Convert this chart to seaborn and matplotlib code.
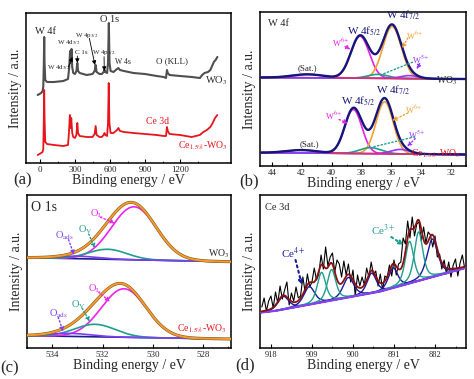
import numpy as np
import seaborn as sns
import matplotlib.pyplot as plt
from matplotlib.ticker import MultipleLocator, FixedLocator

# ---------------- (a) survey spectra (x on the printed tick scale)
wo3_survey_e = [-20, -5, 10, 22, 28, 33, 36, 39, 45, 60, 120, 200, 240, 250, 258, 264, 270, 276,
                285, 300, 312, 320, 326, 340, 400, 450, 468, 477, 485, 510, 530, 545, 553, 560,
                575, 583, 590, 596, 605, 630, 660, 672, 685, 720, 800, 900, 1000, 1060, 1080,
                1088, 1095, 1110, 1200, 1300, 1370, 1390, 1410, 1440, 1460, 1475, 1490, 1505, 1520]
wo3_survey_i = [68, 69, 70, 72, 76, 100, 126, 100, 83, 81, 81, 82, 84, 95, 112, 100, 114, 96,
                90, 89, 92, 100, 92, 90, 88, 89, 92, 98, 91, 89, 89, 91, 93, 91,
                90, 100, 140, 100, 92, 91, 94, 95, 93, 92, 90, 89, 87, 86, 85,
                93, 90, 88, 87, 86, 85, 88, 90, 91, 93, 97, 101, 103, 106]
ce_survey_e = [-20, -5, 10, 22, 28, 33, 36, 39, 45, 60, 120, 200, 240, 248, 256, 262, 268, 276,
               285, 300, 312, 320, 326, 340, 400, 450, 468, 477, 485, 510, 530, 545, 553, 560,
               575, 583, 589, 595, 605, 630, 660, 672, 685, 720, 800, 900, 1000, 1060, 1080,
               1088, 1095, 1110, 1200, 1300, 1370, 1400, 1430, 1460, 1480, 1500, 1520]
ce_survey_i = [8, 9, 10, 11, 14, 45, 73, 45, 21, 19, 18, 17, 18, 30, 48, 35, 45, 30,
               26, 25, 28, 40, 30, 27, 26, 26, 29, 37, 28, 26, 26, 28, 30, 28,
               27, 40, 80, 40, 30, 30, 33, 35, 32, 31, 30, 29, 28, 27, 27,
               36, 32, 29, 28, 26, 28, 31, 33, 36, 40, 45, 48]
survey_ticks = [0, 300, 600, 900, 1200]

# ---------------- (b) W 4f fits: W6+ 5/2, W6+ 7/2, W5+ 5/2, W5+ 7/2, satellite
w4f_colors = ["#e620e6", "#f5a030", "#1f9e8e", "#9933ff", "#d6336c"]
wo3_w_center = [38.1, 35.95, 36.9, 34.8, 41.6]
wo3_w_height = [42, 52, 4, 3, 3.5]
wo3_w_fwhm = [1.45, 1.45, 1.6, 1.4, 2.5]
wo3_w_bg = [88.5, 87.0]
ce_w_center = [38.55, 36.45, 37.4, 35.4, 42.0]
ce_w_height = [44, 52, 6, 4.5, 3]
ce_w_fwhm = [1.35, 1.35, 1.7, 1.5, 2.5]
ce_w_bg = [13.3, 11.5]

# ---------------- (c) O 1s fits: O_L, O_V, O_ads
o1s_colors = ["#ee22ee", "#1f9e8e", "#7a3ff0"]
wo3_o_center = [530.75, 531.8, 533.0]
wo3_o_height = [53, 10, 2.5]
wo3_o_fwhm = [2.1, 1.8, 2.0]
wo3_o_bg = [90.3, 86.3]
ce_o_center = [531.15, 532.3, 533.3]
ce_o_height = [48.5, 12.5, 3]
ce_o_fwhm = [2.1, 1.9, 2.0]
ce_o_bg = [12.3, 9.0]

# ---------------- (d) Ce 3d
ce_bg_e = [920.2, 917.2, 894.2, 875.4]
ce_bg_i = [35.5, 37, 56.3, 80]
ce4_center = [915.3, 909.6, 901.0, 895.9, 891.2, 882.6]
ce4_height = [13, 18, 20, 20, 20, 38]
ce4_fwhm = [2.8, 2.8, 2.8, 2.4, 2.4, 2.8]
ce3_center = [906.9, 904.7, 887.6, 885.6]
ce3_height = [30, 31, 42, 49]
ce3_fwhm = [2.2, 2.2, 2.2, 2.2]
ce_raw_i = [41, 50, 37, 47, 52, 40, 56, 45, 62, 49, 58, 66, 43, 55, 47, 61, 50, 52, 71, 56,
            74, 61, 66, 80, 68, 74, 93, 79, 101, 82, 91, 95, 76, 88, 84, 71, 87, 73, 84, 66,
            78, 52, 73, 62, 71, 63, 80, 71, 86, 73, 77, 62, 74, 58, 72, 70, 83, 72, 88, 73,
            84, 86, 110, 104, 127, 110, 131, 112, 124, 126, 107, 121, 105, 116, 113, 101, 112, 91, 94, 79,
            88, 74, 86, 71, 83, 89, 72, 85, 93, 80]


def gauss(e, c, h, w):
    return h * np.exp(-4 * np.log(2) * ((e - c) / w) ** 2)


def pvoigt(e, c, h, w):
    g = np.exp(-4 * np.log(2) * ((e - c) / w) ** 2)
    l = 1 / (1 + 4 * ((e - c) / w) ** 2)
    return h * (0.5 * g + 0.5 * l)


def line(ax, x, y, color, lw=1.0, ls="-", z=2):
    sns.lineplot(x=x, y=y, ax=ax, color=color, lw=lw, ls=ls, sort=False,
                 estimator=None, zorder=z)


def arrow(ax, start, end, color, ls=":", lw=1.0, head=True):
    ax.annotate("", xy=end, xytext=start,
                arrowprops=dict(arrowstyle="-|>" if head else "-", color=color, lw=lw, ls=ls,
                                mutation_scale=6, shrinkA=0, shrinkB=0))


sns.set_theme(style="ticks")
plt.rcParams["font.family"] = ["Liberation Serif", "DejaVu Serif"]
plt.rcParams["mathtext.fontset"] = "stix"

fig = plt.figure(figsize=(4.74, 3.79), dpi=100)


def add_ax(l, r, t, b):
    ax = fig.add_axes([l / 474, 1 - b / 379, (r - l) / 474, (b - t) / 379])
    for s in ax.spines.values():
        s.set_linewidth(1.1)
        s.set_color("black")
    ax.tick_params(axis="x", which="major", direction="in", length=3, width=0.8,
                   labelsize=6.5, pad=2, color="black")
    ax.tick_params(axis="x", which="minor", direction="in", length=1.8, width=0.6)
    ax.tick_params(axis="y", left=False, labelleft=False)
    ax.set_xlabel("Binding energy / eV", fontsize=10, labelpad=0)
    ax.set_ylabel("Intensity / a.u.", fontsize=10, labelpad=3)
    return ax


# ---------- (a)
ax = add_ax(26, 231, 13, 163)
line(ax, wo3_survey_e, wo3_survey_i, "#4f4f4f", 1.5)
line(ax, ce_survey_e, ce_survey_i, "#e8141c", 1.3)
ax.set_xlim(-120, 1637)
ax.set_ylim(0, 150)
ax.xaxis.set_major_locator(FixedLocator(survey_ticks))
ax.xaxis.set_minor_locator(FixedLocator([150, 450, 750, 1050, 1350]))
ax.text(43, 132, "W 4f", fontsize=7.5, ha="center", va="center")
ax.text(600, 144, "O 1s", fontsize=7.5, ha="center", va="center")
ax.text(243, 120, r"W 4d$_{5/2}$", fontsize=5, ha="center", va="center")
ax.text(165, 95, r"W 4d$_{3/2}$", fontsize=5, ha="center", va="center")
ax.text(357, 110.7, "C 1s", fontsize=5, ha="center", va="center")
ax.text(400, 128, r"W 4p$_{3/2}$", fontsize=5, ha="center", va="center")
ax.text(548, 110.3, r"W 4p$_{1/2}$", fontsize=5, ha="center", va="center")
ax.text(709, 101.3, "W 4s", fontsize=5.5, ha="center", va="center")
ax.text(1129, 102, "O (KLL)", fontsize=6.5, ha="center", va="center")
ax.text(1514, 82, r"WO$_3$", fontsize=7.5, ha="center", va="center")
ax.text(1003, 41, "Ce 3d", fontsize=7, ha="center", va="center", color="#e8141c")
ax.text(1397, 17, r"Ce$_{1.5\%}$-WO$_3$", fontsize=7, ha="center", va="center", color="#e8141c")
arrow(ax, (243, 96), (278, 106), "black", "-", 0.6)
arrow(ax, (320, 107), (320, 100), "black", "-", 0.6)
arrow(ax, (423, 124.7), (471, 98), "black", "-", 0.6)
arrow(ax, (549, 106.3), (551, 92), "black", "-", 0.6)

# ---------- (b)
ax = add_ax(260, 466, 12, 166)
ew = np.linspace(44.8, 31.0, 600)
navy = "#16167a"
for cen, hgt, fw, bg in [(wo3_w_center, wo3_w_height, wo3_w_fwhm, wo3_w_bg),
                         (ce_w_center, ce_w_height, ce_w_fwhm, ce_w_bg)]:
    base = np.interp(ew, [31.0, 44.8], [bg[1], bg[0]])
    total = base.copy()
    for c, h, w, col in zip(cen, hgt, fw, w4f_colors):
        comp = gauss(ew, c, h, w)
        total += comp
        line(ax, ew, base + comp, col, 1.2, z=3)
    line(ax, ew, base, "#d6336c", 1.0, z=2)
    line(ax, ew, total, navy, 1.7, z=4)
ax.set_xlim(44.8, 31.0)
ax.set_ylim(0, 154)
ax.xaxis.set_major_locator(MultipleLocator(2))
ax.xaxis.set_minor_locator(MultipleLocator(1))
ax.text(44.25, 142, "W 4f", fontsize=7.5, ha="left", va="center")
ax.text(37.8, 134.3, r"W 4f$_{5/2}$", fontsize=8, ha="center", va="center", color=navy)
ax.text(35.2, 151, r"W 4f$_{7/2}$", fontsize=8, ha="center", va="center", color=navy)
ax.text(39.4, 122.7, r"W$^{6+}$", fontsize=6, ha="center", va="center", color=w4f_colors[0])
ax.text(34.4, 130, r"W$^{6+}$", fontsize=6, ha="center", va="center", color=w4f_colors[1])
ax.text(34.05, 106, r"W$^{5+}$", fontsize=6, ha="center", va="center", color=w4f_colors[3])
ax.text(32.3, 85, r"WO$_3$", fontsize=7, ha="center", va="center")
ax.text(41.64, 97.7, "(Sat.)", fontsize=6.5, ha="center", va="center")
arrow(ax, (39.1, 119.5), (38.73, 116.7), w4f_colors[0])
arrow(ax, (34.9, 128), (35.28, 117.7), w4f_colors[1])
arrow(ax, (34.1, 102.5), (34.3, 96.7), w4f_colors[3])
arrow(ax, (36.73, 91), (34.5, 104.3), w4f_colors[2], head=False)
ax.text(38.2, 65, r"W 4f$_{5/2}$", fontsize=8, ha="center", va="center", color=navy)
ax.text(35.85, 75.3, r"W 4f$_{7/2}$", fontsize=8, ha="center", va="center", color=navy)
ax.text(39.85, 50, r"W$^{6+}$", fontsize=6, ha="center", va="center", color=w4f_colors[0])
ax.text(34.5, 56, r"W$^{6+}$", fontsize=6, ha="center", va="center", color=w4f_colors[1])
ax.text(34.27, 31, r"W$^{5+}$", fontsize=6, ha="center", va="center", color=w4f_colors[3])
ax.text(33.0, 12.7, r"Ce$_{1.5\%}$-WO$_3$", fontsize=7, ha="center", va="center", color="#e8141c")
ax.text(41.5, 22, "(Sat.)", fontsize=6.5, ha="center", va="center")
arrow(ax, (39.5, 46.5), (38.9, 42.7), w4f_colors[0])
arrow(ax, (34.9, 53), (35.95, 45.3), w4f_colors[1])
arrow(ax, (34.4, 27.5), (34.95, 19.3), w4f_colors[3])
arrow(ax, (37.17, 19.3), (34.4, 29.3), w4f_colors[2], head=False)

# ---------- (c)
ax = add_ax(27, 231, 195, 348)
eo = np.linspace(535.0, 526.9, 600)
for cen, hgt, fw, bg in [(wo3_o_center, wo3_o_height, wo3_o_fwhm, wo3_o_bg),
                         (ce_o_center, ce_o_height, ce_o_fwhm, ce_o_bg)]:
    base = np.interp(eo, [526.9, 535.0], [bg[1], bg[0]])
    total = base.copy()
    for c, h, w, col in zip(cen, hgt, fw, o1s_colors):
        comp = gauss(eo, c, h, w)
        total += comp
        line(ax, eo, base + comp, col, 1.2, z=3)
    line(ax, eo, base, "#1c1c8c", 1.2, z=2)
    line(ax, eo, total, "#8a5a20", 2.2, z=4)
    line(ax, eo, total, "#f29b30", 1.4, z=5)
ax.set_xlim(535.0, 526.9)
ax.set_ylim(0, 153)
ax.xaxis.set_major_locator(MultipleLocator(2))
ax.xaxis.set_minor_locator(MultipleLocator(1))
ax.text(534.84, 140.3, "O 1s", fontsize=10, ha="left", va="center")
for (tx, ty), (hx, hy), (lab, col) in [((532.23, 134.7), (531.5, 124.7), (r"O$_{\rm L}$", o1s_colors[0])),
                                       ((532.7, 118), (532.3, 99.7), (r"O$_{\rm V}$", o1s_colors[1])),
                                       ((533.5, 112.3), (533.13, 93), (r"O$_{\rm ads}$", o1s_colors[2])),
                                       ((532.3, 59.7), (531.7, 46.3), (r"O$_{\rm L}$", o1s_colors[0])),
                                       ((532.96, 43.7), (532.5, 26.3), (r"O$_{\rm V}$", o1s_colors[1])),
                                       ((533.76, 34.7), (533.56, 16.3), (r"O$_{\rm ads}$", o1s_colors[2]))]:
    ax.text(tx, ty, lab, fontsize=7.5, ha="center", va="center", color=col)
    arrow(ax, (tx - 0.15 if tx > hx + 0.3 else tx, ty - 4), (hx, hy), col)
ax.text(527.4, 94.7, r"WO$_3$", fontsize=7, ha="center", va="center")
ax.text(528.06, 19.7, r"Ce$_{1.5\%}$-WO$_3$", fontsize=7, ha="center", va="center", color="#e8141c")

# ---------- (d)
ax = add_ax(260, 466, 195, 348)
ed = np.linspace(920.2, 875.4, 600)
base = np.interp(ed, ce_bg_e[::-1], ce_bg_i[::-1])
total = base.copy()
for c, h, w in zip(ce4_center, ce4_height, ce4_fwhm):
    comp = pvoigt(ed, c, h, w)
    total += comp
    line(ax, ed, base + comp, "#1a1a9a", 1.0, z=4)
for c, h, w in zip(ce3_center, ce3_height, ce3_fwhm):
    comp = pvoigt(ed, c, h, w)
    total += comp
    line(ax, ed, base + comp, "#1f9e8e", 1.0, z=4)
raw_e = np.arange(920.0, 875.25, -0.5)
line(ax, raw_e, ce_raw_i, "black", 0.8, z=3)
line(ax, ed, base, "#8a3ff0", 1.6, z=5)
line(ax, ed, total, "#8b1010", 1.3, z=6)
ax.set_xlim(920.4, 875.2)
ax.set_ylim(0, 153)
ax.xaxis.set_major_locator(MultipleLocator(9))
ax.xaxis.set_minor_locator(MultipleLocator(4.5))
ax.tick_params(axis="x", labelsize=6)
ax.text(919.25, 140.3, "Ce 3d", fontsize=7.5, ha="left", va="center")
ax.text(913.0, 94.7, r"Ce$^{4+}$", fontsize=8, ha="center", va="center", color="#1a1a9a")
arrow(ax, (912.6, 88), (911.2, 63), "#1a1a9a", lw=1.5)
ax.text(893.3, 118, r"Ce$^{3+}$", fontsize=8, ha="center", va="center", color="#1f9e8e")
arrow(ax, (891.6, 111), (888.9, 103), "#1f9e8e", lw=1.5)

# labels sit on top of the curves
for a in fig.axes:
    for t in a.texts:
        t.set_zorder(10)

for lab, x, y in [("(a)", 23, 180), ("(b)", 248.7, 181.7), ("(c)", 10, 368), ("(d)", 245.5, 365)]:
    fig.text(x / 474, 1 - y / 379, lab, fontsize=12, ha="center", va="center")

fig.savefig("out.png", dpi=100)
